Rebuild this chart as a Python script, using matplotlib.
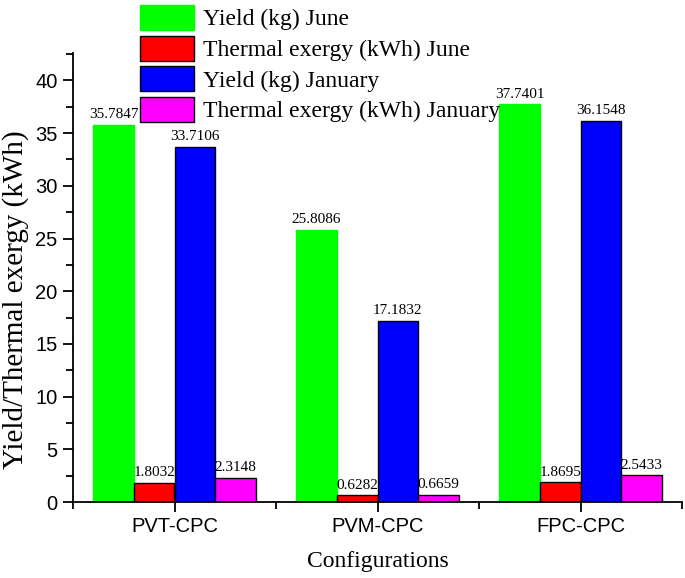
import numpy as np
import matplotlib
matplotlib.use("Agg")
import matplotlib.pyplot as plt
from matplotlib.ticker import MultipleLocator

configs = ["PVT-CPC", "PVM-CPC", "FPC-CPC"]
series_names = ["Yield (kg) June", "Thermal exergy (kWh) June",
                "Yield (kg) January", "Thermal exergy (kWh) January"]
yield_june = [35.7847, 25.8086, 37.7401]
exergy_june = [1.8032, 0.6282, 1.8695]
yield_jan = [33.7106, 17.1832, 36.1548]
exergy_jan = [2.3148, 0.6659, 2.5433]
colors = ["#00ff00", "#ff0000", "#0000ff", "#ff00ff"]

W, H = 685, 578
fig = plt.figure(figsize=(W / 100, H / 100), dpi=100)
ax = fig.add_axes([73 / W, 1 - 502 / H, 609 / W, 449 / H])

x = np.arange(1, len(configs) + 1)
w = 0.2
serif = "Liberation Serif"
sans = "Liberation Sans"
handles = []
for i, (vals, c) in enumerate(zip([yield_june, exergy_june, yield_jan, exergy_jan], colors)):
    pos = x - 0.3 + i * w
    ec = c if i == 0 else "black"
    b = ax.bar(pos, vals, w, color=c, edgecolor=ec, linewidth=1.0, label=series_names[i])
    handles.append(b)
    for p, v in zip(pos, vals):
        ax.text(p, v + 0.35, f"{v:.4f}", ha="center", va="bottom",
                fontsize=11, family=serif)

ax.set_xlim(0.5, 3.5)
ax.set_ylim(0, 42.6)
ax.set_xticks(x)
ax.set_xticklabels(configs, fontsize=14.5, family=sans)
ax.xaxis.set_minor_locator(MultipleLocator(1, offset=0.5))
ax.yaxis.set_major_locator(MultipleLocator(5))
ax.yaxis.set_minor_locator(MultipleLocator(2.5))
for lbl in ax.get_yticklabels():
    lbl.set_family(sans)
    lbl.set_fontsize(14.5)
ax.tick_params(which="major", direction="out", length=7, width=1.3)
ax.tick_params(which="minor", direction="out", length=5, width=1.3)
ax.tick_params(axis="y", which="major", pad=4)
ax.tick_params(axis="x", which="major", pad=4)
ax.spines["top"].set_visible(False)
ax.spines["right"].set_visible(False)
ax.spines["left"].set_linewidth(1.3)
ax.spines["bottom"].set_linewidth(1.3)

# axis titles placed in figure pixels to follow the reference
fig.text(16 / W, 1 - 300 / H, "Yield/Thermal exergy (kWh)", rotation=90,
         ha="center", va="center", fontsize=21, family=serif)
fig.text(378 / W, 1 - 562 / H, "Configurations", ha="center", va="center",
         fontsize=17, family=serif)

fig.legend(handles=handles, loc="upper left", bbox_to_anchor=(140 / W, 1 - 5 / H),
           frameon=False, prop={"family": serif, "size": 17},
           borderpad=0, borderaxespad=0,
           handlelength=2.3, handleheight=1.25, handletextpad=0.35, labelspacing=0.22)

fig.savefig("out.png", dpi=100)
